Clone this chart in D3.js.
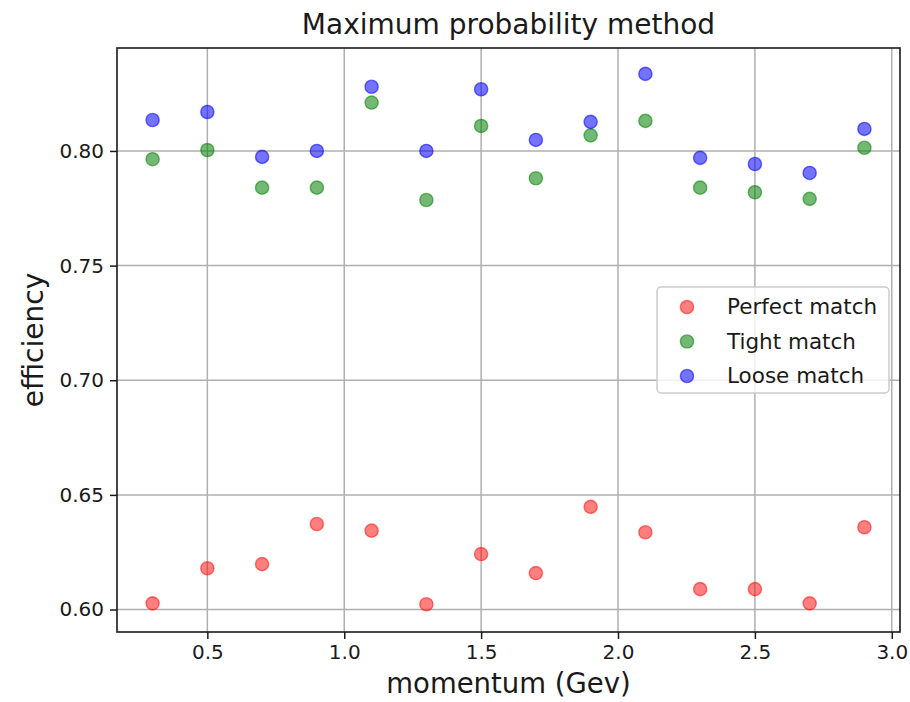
<!DOCTYPE html>
<html>
<head>
<meta charset="utf-8">
<script src="https://cdn.jsdelivr.net/npm/d3@7"></script>
<style>
  html, body { margin: 0; padding: 0; background: #fff; }
  text { font-family: 'DejaVu Sans', sans-serif; fill: #1a1a1a; }
</style>
</head>
<body>
<div id="chart"></div>
<script>
const momentum = [0.3, 0.5, 0.7, 0.9, 1.1, 1.3, 1.5, 1.7, 1.9, 2.1, 2.3, 2.5, 2.7, 2.9];
const perfectMatch = [0.6027, 0.6180, 0.6198, 0.6373, 0.6344, 0.6023, 0.6242, 0.6159, 0.6448, 0.6337, 0.6089, 0.6089, 0.6027, 0.6359];
const tightMatch = [0.7964, 0.8004, 0.7840, 0.7840, 0.8211, 0.7786, 0.8109, 0.7881, 0.8068, 0.8131, 0.7840, 0.7820, 0.7791, 0.8014];
const looseMatch = [0.8135, 0.8170, 0.7974, 0.8000, 0.8280, 0.8000, 0.8269, 0.8048, 0.8127, 0.8336, 0.7970, 0.7943, 0.7904, 0.8096];
const xTicks = [0.5, 1.0, 1.5, 2.0, 2.5, 3.0];
const yTicks = [0.60, 0.65, 0.70, 0.75, 0.80];

const series = [
  { name: 'Perfect match', values: perfectMatch, color: '#ff0000', alpha: 0.5 },
  { name: 'Tight match', values: tightMatch, color: '#008000', alpha: 0.55 },
  { name: 'Loose match', values: looseMatch, color: '#0000ff', alpha: 0.55 },
];

const W = 910, H = 702;
const margin = { top: 48, right: 10, bottom: 70, left: 117 };
const width = W - margin.left - margin.right;
const height = H - margin.top - margin.bottom;

const svg = d3.select('#chart').append('svg')
  .attr('width', W)
  .attr('height', H);

const g = svg.append('g')
  .attr('transform', `translate(${margin.left},${margin.top})`);

const x = d3.scaleLinear().domain([0.17, 3.03]).range([0, width]);
const y = d3.scaleLinear().domain([0.5902, 0.8449]).range([height, 0]);

// grid
g.append('g')
  .selectAll('line.vx')
  .data(xTicks)
  .enter().append('line')
  .attr('x1', (d) => x(d)).attr('x2', (d) => x(d))
  .attr('y1', 0).attr('y2', height)
  .attr('stroke', '#b0b0b0').attr('stroke-width', 1.5);

g.append('g')
  .selectAll('line.hy')
  .data(yTicks)
  .enter().append('line')
  .attr('x1', 0).attr('x2', width)
  .attr('y1', (d) => y(d)).attr('y2', (d) => y(d))
  .attr('stroke', '#b0b0b0').attr('stroke-width', 1.5);

// points
series.forEach((s) => {
  g.append('g')
    .selectAll('circle')
    .data(s.values)
    .enter().append('circle')
    .attr('cx', (d, i) => x(momentum[i]))
    .attr('cy', (d) => y(d))
    .attr('r', 6.6)
    .attr('fill', s.color)
    .attr('fill-opacity', s.alpha)
    .attr('stroke', s.color)
    .attr('stroke-opacity', s.alpha)
    .attr('stroke-width', 1.4);
});

// axes
const xAxis = g.append('g')
  .attr('transform', `translate(0,${height})`)
  .call(d3.axisBottom(x).tickValues(xTicks).tickFormat(d3.format('.1f')).tickSizeOuter(0).tickSize(7).tickPadding(6));

const yAxis = g.append('g')
  .call(d3.axisLeft(y).tickValues(yTicks).tickFormat(d3.format('.2f')).tickSizeOuter(0).tickSize(7).tickPadding(6));

[xAxis, yAxis].forEach((a) => {
  a.select('.domain').remove();
  a.selectAll('line').attr('stroke', '#1a1a1a').attr('stroke-width', 1.5);
  a.selectAll('text')
    .style('font-family', "'DejaVu Sans', sans-serif")
    .style('font-size', '20px')
    .attr('fill', '#1a1a1a');
});

// frame
g.append('rect')
  .attr('width', width).attr('height', height)
  .attr('fill', 'none')
  .attr('stroke', '#1a1a1a')
  .attr('stroke-width', 1.6);

// title and labels
svg.append('text')
  .attr('x', margin.left + width / 2)
  .attr('y', 34)
  .attr('text-anchor', 'middle')
  .style('font-size', '28px')
  .text('Maximum probability method');

svg.append('text')
  .attr('x', margin.left + width / 2)
  .attr('y', 693)
  .attr('text-anchor', 'middle')
  .style('font-size', '27.5px')
  .text('momentum (Gev)');

svg.append('text')
  .attr('transform', `translate(43,${margin.top + height / 2}) rotate(-90)`)
  .attr('text-anchor', 'middle')
  .style('font-size', '28px')
  .text('efficiency');

// legend
const legend = g.append('g')
  .attr('transform', `translate(${657 - margin.left},${287 - margin.top})`);

legend.append('rect')
  .attr('width', 232).attr('height', 106)
  .attr('rx', 4)
  .attr('fill', '#fff').attr('fill-opacity', 0.8)
  .attr('stroke', '#cccccc').attr('stroke-width', 1.5);

series.forEach((s, i) => {
  const row = legend.append('g')
    .attr('transform', `translate(0,${20 + i * 34.5})`);
  row.append('circle')
    .attr('cx', 30).attr('cy', 0).attr('r', 6.6)
    .attr('fill', s.color).attr('fill-opacity', s.alpha)
    .attr('stroke', s.color).attr('stroke-opacity', s.alpha)
    .attr('stroke-width', 1.4);
  row.append('text')
    .attr('x', 70).attr('y', 7)
    .style('font-size', '21.5px')
    .text(s.name);
});
</script>
</body>
</html>
